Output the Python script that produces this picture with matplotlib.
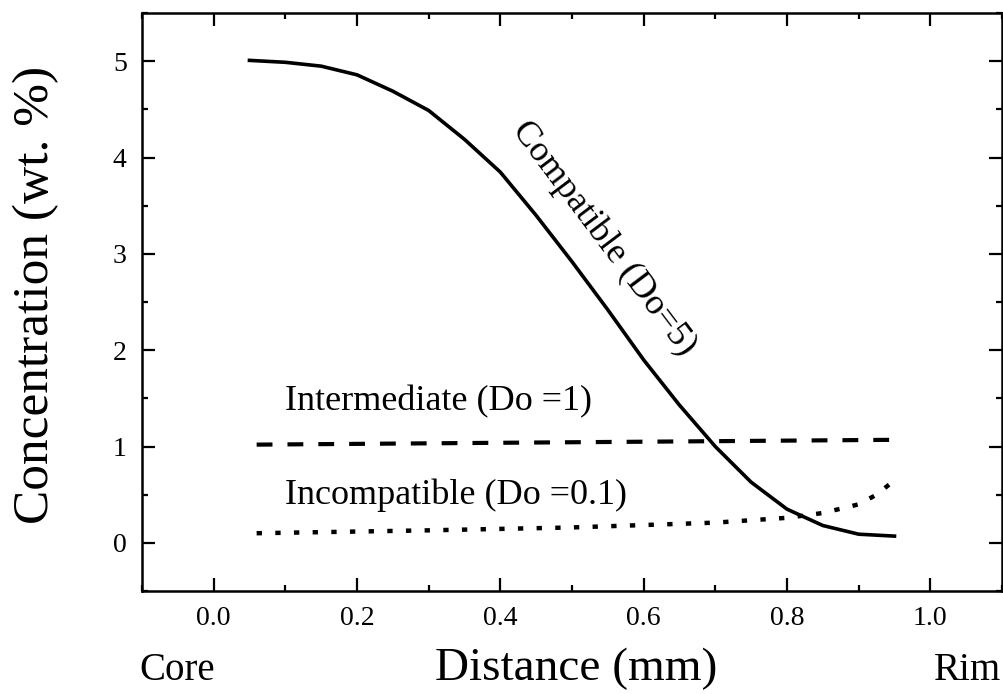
import numpy as np
import matplotlib
matplotlib.use("Agg")
import matplotlib.pyplot as plt
from matplotlib.ticker import MultipleLocator

plt.rcParams['font.family'] = ['Liberation Serif', 'DejaVu Serif']

# concentration profiles core -> rim
dist_compat = [0.05, 0.10, 0.15, 0.20, 0.25, 0.30, 0.35, 0.40, 0.45, 0.50,
               0.55, 0.60, 0.65, 0.70, 0.75, 0.80, 0.85, 0.90, 0.95]
conc_compat = [5.01, 4.99, 4.95, 4.86, 4.69, 4.49, 4.19, 3.85, 3.40, 2.92,
               2.42, 1.90, 1.43, 1.00, 0.63, 0.35, 0.18, 0.09, 0.07]

dist_inter = [0.06, 0.95]
conc_inter = [1.02, 1.07]

dist_incompat = [0.06, 0.30, 0.50, 0.70, 0.80, 0.85, 0.90, 0.925, 0.95]
conc_incompat = [0.10, 0.13, 0.16, 0.21, 0.26, 0.31, 0.40, 0.50, 0.65]

xticks = [0.0, 0.2, 0.4, 0.6, 0.8, 1.0]
yticks = [0, 1, 2, 3, 4, 5]

fig = plt.figure(figsize=(10.04, 6.94), dpi=100)
ax = fig.add_axes([0.1414, 0.1484, 0.8566, 0.8326])

ax.plot(dist_compat, conc_compat, color='black', lw=2.6)
ax.plot(dist_inter, conc_inter, color='black', lw=3, linestyle=(0, (3.8, 3.6)))
ax.plot(dist_incompat, conc_incompat, color='black', lw=3.2, linestyle=(0, (1.2, 3.0)))

ax.text(0.10, 1.38, 'Intermediate (Do =1)', fontsize=26, ha='left', va='baseline')
ax.text(0.10, 0.40, 'Incompatible (Do =0.1)', fontsize=26, ha='left', va='baseline')
ax.text(0.545, 3.16, 'Compatible (Do=5)', fontsize=26, ha='center', va='center',
        rotation=-53, rotation_mode='anchor')

ax.set_xlim(-0.1, 1.1)
ax.set_ylim(-0.5, 5.5)
ax.set_xticks(xticks)
ax.set_xticklabels(['%.1f' % v for v in xticks])
ax.set_yticks(yticks)
ax.xaxis.set_minor_locator(MultipleLocator(0.1))
ax.yaxis.set_minor_locator(MultipleLocator(0.5))
ax.tick_params(which='both', direction='in', top=True, right=True, width=1.6)
ax.tick_params(which='major', length=9.5, labelsize=20, pad=11)
ax.tick_params(which='minor', length=4.5)
for sp in ax.spines.values():
    sp.set_linewidth(1.8)

fig.text(0.036, 0.575, 'Concentration (wt. %)', fontsize=37, rotation=90,
         ha='center', va='center')
fig.text(0.574, 0.02, 'Distance (mm)', fontsize=34, ha='center', va='baseline')
fig.text(0.139, 0.02, 'Core', fontsize=28, ha='left', va='baseline')
fig.text(0.997, 0.02, 'Rim', fontsize=28, ha='right', va='baseline')

fig.savefig('out.png', dpi=100)
